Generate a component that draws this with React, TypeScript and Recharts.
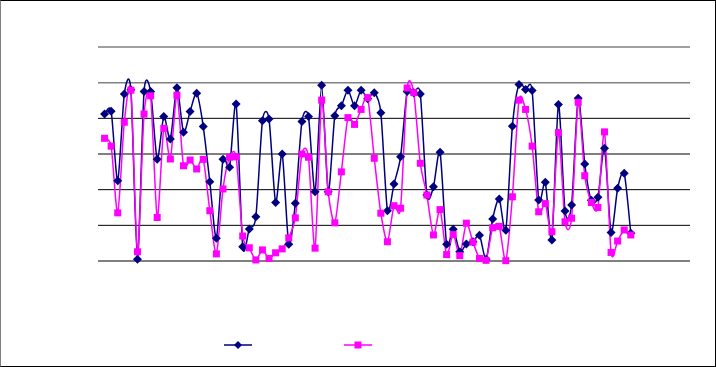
import React from 'react';
import { LineChart, Line, XAxis, YAxis, ReferenceLine } from 'recharts';

// readings per sample, two series (navy diamonds, magenta squares)
const navyValues = [
  4.12, 4.2, 2.25, 4.68, 4.8, 0.05, 4.75, 4.75, 2.85, 4.05,
  3.42, 4.86, 3.61, 4.19, 4.7, 3.77, 2.22, 0.64, 2.85, 2.63,
  4.4, 0.4, 0.9, 1.24, 3.93, 3.98, 1.64, 3.0, 0.47, 1.62,
  3.91, 4.05, 1.94, 4.93, 1.94, 4.07, 4.35, 4.79, 4.35, 4.79,
  4.55, 4.72, 4.16, 1.41, 2.16, 2.92, 4.75, 4.72, 4.68, 1.85,
  2.08, 3.05, 0.47, 0.89, 0.26, 0.48, 0.54, 0.72, 0.05, 1.18,
  1.74, 0.86, 3.78, 4.95, 4.81, 4.78, 1.71, 2.21, 0.59, 4.39,
  1.4, 1.57, 4.56, 2.72, 1.7, 1.79, 3.16, 0.8, 2.04, 2.46,
  0.78,
];

const magentaValues = [
  3.44, 3.22, 1.35, 3.89, 4.79, 0.26, 4.12, 4.63, 1.22, 3.72,
  2.86, 4.65, 2.67, 2.83, 2.58, 2.85, 1.41, 0.2, 2.02, 2.91,
  2.92, 0.7, 0.37, 0.03, 0.31, 0.07, 0.23, 0.34, 0.65, 1.21,
  3.0, 2.91, 0.36, 4.51, 1.94, 1.07, 2.5, 4.02, 3.83, 4.25,
  4.58, 2.88, 1.34, 0.54, 1.55, 1.48, 4.85, 4.72, 2.74, 1.85,
  0.73, 1.44, 0.18, 0.74, 0.15, 1.06, 0.53, 0.07, 0.02, 0.93,
  0.97, 0.01, 1.8, 4.51, 4.25, 3.22, 1.38, 1.61, 0.82, 3.6,
  1.1, 1.2, 4.45, 2.39, 1.64, 1.5, 3.62, 0.24, 0.56, 0.87,
  0.73,
];

const yTicks = [0, 1, 2, 3, 4, 5, 6];
const xDomain = [0, 90];

const NAVY = '#000080';
const MAGENTA = '#FF00FF';

const rows = navyValues.map((v, i) => ({ x: i + 1, navy: v, magenta: magentaValues[i] }));

// Excel-like smoothed line (softened catmull-rom bezier)
const smoothCurve = (context: any) => {
  let pts: number[][] = [];
  const k = 8;
  return {
    areaStart() {},
    areaEnd() {},
    lineStart() {
      pts = [];
    },
    point(x: number, y: number) {
      pts.push([+x, +y]);
    },
    lineEnd() {
      if (!pts.length) return;
      context.moveTo(pts[0][0], pts[0][1]);
      for (let i = 0; i < pts.length - 1; i++) {
        const p0 = pts[Math.max(i - 1, 0)];
        const p1 = pts[i];
        const p2 = pts[i + 1];
        const p3 = pts[Math.min(i + 2, pts.length - 1)];
        context.bezierCurveTo(
          p1[0] + (p2[0] - p0[0]) / k,
          p1[1] + (p2[1] - p0[1]) / k,
          p2[0] - (p3[0] - p1[0]) / k,
          p2[1] - (p3[1] - p1[1]) / k,
          p2[0],
          p2[1]
        );
      }
    },
  };
};

const DiamondDot = (props: any) => {
  const { cx, cy, index } = props;
  if (cx == null || cy == null) return null;
  return (
    <polygon
      key={`nd-${index}`}
      points={`${cx},${cy - 4.5} ${cx + 4.5},${cy} ${cx},${cy + 4.5} ${cx - 4.5},${cy}`}
      fill={NAVY}
    />
  );
};

const SquareDot = (props: any) => {
  const { cx, cy, index } = props;
  if (cx == null || cy == null) return null;
  return <rect key={`ms-${index}`} x={cx - 3.5} y={cy - 3.5} width={7} height={7} fill={MAGENTA} />;
};

const LegendKey = () => (
  <svg width={716} height={367} style={{ position: 'absolute', left: 0, top: 0, pointerEvents: 'none' }}>
    <line x1={224} y1={345} x2={252} y2={345} stroke={NAVY} strokeWidth={1.5} />
    <polygon points="238,341 242,345 238,349 234,345" fill={NAVY} />
    <line x1={344} y1={345} x2={372} y2={345} stroke={MAGENTA} strokeWidth={1.5} />
    <rect x={354.5} y={341.5} width={7} height={7} fill={MAGENTA} />
  </svg>
);

export default function App() {
  return (
    <div style={{ position: 'absolute', left: 0, top: 0, width: 716, height: 367, background: '#fff' }}>
      <LineChart
        width={716}
        height={367}
        data={rows}
        margin={{ top: 47, right: 26, bottom: 106, left: 98 }}
      >
        <XAxis
          type="number"
          dataKey="x"
          domain={xDomain}
          height={0}
          tick={false}
          tickLine={false}
          axisLine={{ stroke: '#000' }}
        />
        <YAxis
          type="number"
          domain={[0, 6]}
          ticks={yTicks}
          width={0}
          tick={false}
          tickLine={false}
          axisLine={{ stroke: '#000' }}
        />
        {yTicks.map((t) => (
          <ReferenceLine
            key={`g-${t}`}
            y={t}
            stroke={t >= 5 ? '#808080' : '#000'}
            strokeWidth={t >= 5 ? 1.5 : 1}
          />
        ))}
        <Line
          type={smoothCurve as any}
          dataKey="navy"
          stroke={NAVY}
          strokeWidth={1.5}
          dot={DiamondDot}
          activeDot={false}
          isAnimationActive={false}
        />
        <Line
          type={smoothCurve as any}
          dataKey="magenta"
          stroke={MAGENTA}
          strokeWidth={1.5}
          dot={SquareDot}
          activeDot={false}
          isAnimationActive={false}
        />
      </LineChart>
      <LegendKey />
      <div
        style={{
          position: 'absolute',
          left: 0,
          top: 0,
          width: 716,
          height: 367,
          boxSizing: 'border-box',
          border: '1px solid #000',
          borderLeftColor: '#808080',
          pointerEvents: 'none',
        }}
      />
    </div>
  );
}
